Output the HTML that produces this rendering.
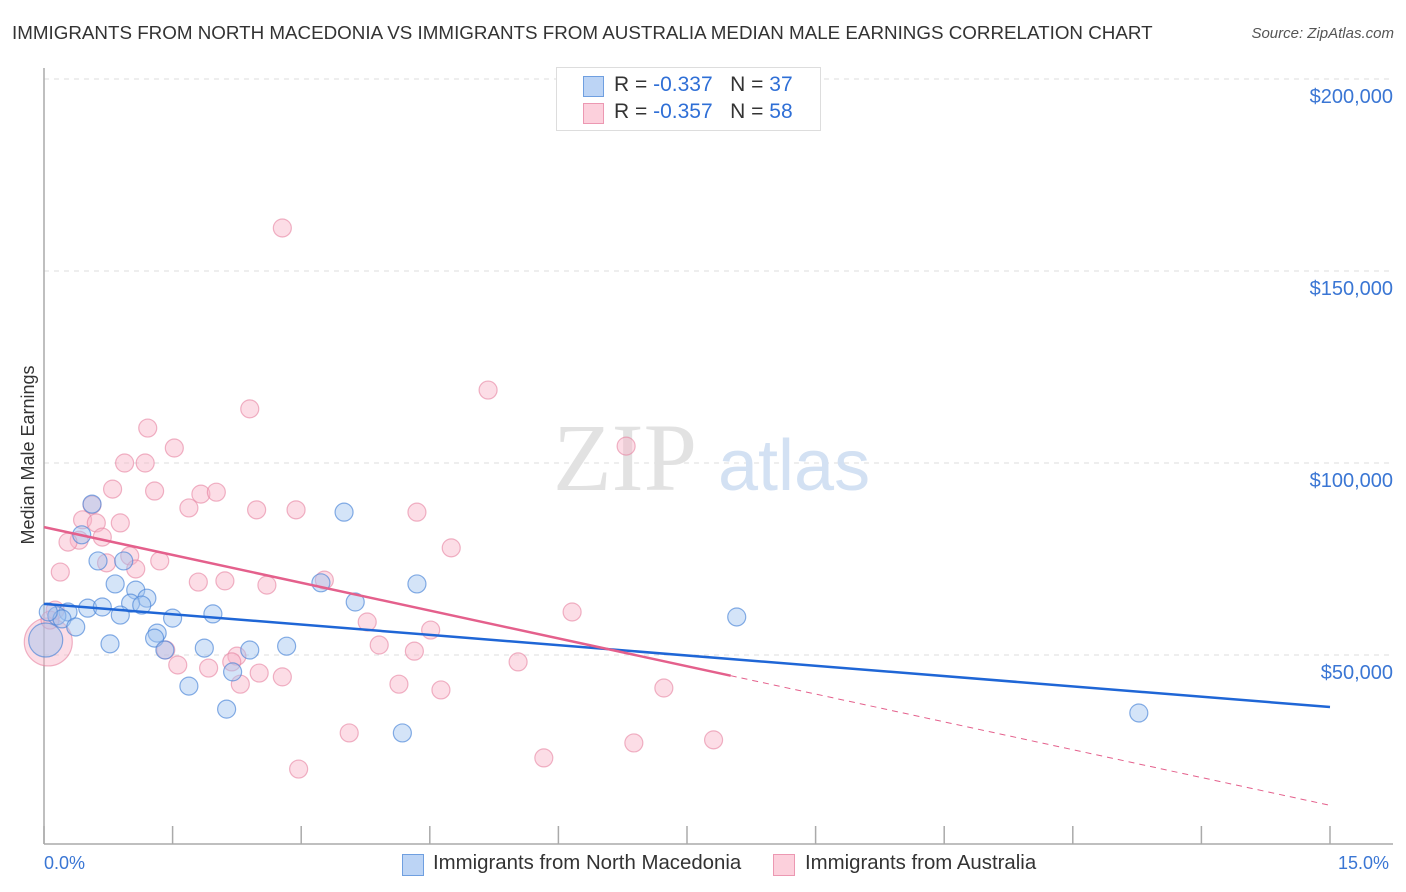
<!DOCTYPE html>
<html><head><meta charset="utf-8">
<style>
body{margin:0;background:#fff;font-family:"Liberation Sans",sans-serif;}
#wrap{position:relative;width:1406px;height:892px;overflow:hidden;}
.t{position:absolute;white-space:nowrap;}
</style></head>
<body>
<div id="wrap">
<div class="t" style="left:12px;top:22px;font-size:18.8px;color:#333;">IMMIGRANTS FROM NORTH MACEDONIA VS IMMIGRANTS FROM AUSTRALIA MEDIAN MALE EARNINGS CORRELATION CHART</div>
<div class="t" style="right:12px;top:25px;font-size:15px;color:#555;font-style:italic;">Source: ZipAtlas.com</div>
<svg id="svg" width="1406" height="892" style="position:absolute;left:0;top:0">
<text x="34" y="455" transform="rotate(-90 34 455)" text-anchor="middle" font-size="18" fill="#333" font-family="Liberation Sans, sans-serif">Median Male Earnings</text>
</svg>
<div style="position:absolute;left:556px;top:67px;width:263px;height:62px;border:1px solid #ddd;background:#fff;">
 <div style="position:absolute;left:26px;top:8px;width:19px;height:19px;background:#bcd4f5;border:1px solid #6f9fe0;"></div>
 <div class="t" style="left:57px;top:5px;font-size:21px;color:#333;">R = <span style="color:#2f6fd6">-0.337</span> &nbsp; N = <span style="color:#2f6fd6">37</span></div>
 <div style="position:absolute;left:26px;top:35px;width:19px;height:19px;background:#fcd0dc;border:1px solid #ec98b2;"></div>
 <div class="t" style="left:57px;top:32px;font-size:21px;color:#333;">R = <span style="color:#2f6fd6">-0.357</span> &nbsp; N = <span style="color:#2f6fd6">58</span></div>
</div>
<div class="t" style="left:44px;top:853px;font-size:18px;color:#3a76d4;">0.0%</div>
<div class="t" style="left:1338px;top:853px;font-size:18px;color:#3a76d4;">15.0%</div>
<div style="position:absolute;left:402px;top:854px;width:20px;height:20px;background:#bcd4f5;border:1px solid #6f9fe0;"></div>
<div class="t" style="left:433px;top:852px;font-size:20.4px;color:#333;">Immigrants from North Macedonia</div>
<div style="position:absolute;left:773px;top:854px;width:20px;height:20px;background:#fcd0dc;border:1px solid #ec98b2;"></div>
<div class="t" style="left:805px;top:852px;font-size:20.4px;color:#333;">Immigrants from Australia</div>
</div>
<script>
const yTicks=[50,100,150,200];
const yTickLabels=["$50,000","$100,000","$150,000","$200,000"];
const blueX=[0.56,0.44,0.63,0.93,0.83,1.07,1.20,1.01,1.14,0.51,0.68,0.28,0.15,0.21,0.37,0.89,1.50,1.97,1.32,1.29,1.41,0.77,1.87,2.40,2.83,2.20,1.69,2.13,3.50,3.23,3.63,4.35,4.18,8.08,12.77,0.02,0.05];
const blueY=[89.3,81.3,74.5,74.5,68.5,66.9,64.8,63.5,63.0,62.2,62.5,61.2,60.2,59.4,57.3,60.4,59.6,60.7,55.7,54.4,51.3,52.9,51.8,51.3,52.3,45.6,41.9,35.9,87.2,68.8,63.8,68.5,29.7,59.9,34.9,53.9,61.2];
const blueBig=[35];
const pinkX=[2.78,5.18,2.40,1.21,6.79,1.52,0.94,1.18,0.80,1.29,1.83,2.01,0.56,1.69,2.48,2.94,4.35,0.45,0.61,0.89,0.41,0.28,0.68,4.75,1.00,1.35,0.73,1.07,0.19,1.80,2.11,2.60,3.27,6.16,0.13,3.77,4.51,3.91,4.32,2.25,2.19,1.56,1.92,2.51,2.78,5.53,4.14,4.63,7.23,2.29,3.56,6.88,7.81,2.97,5.83,0.05,0.07,1.42];
const pinkY=[161.2,119.0,114.1,109.1,104.4,103.9,100.0,100.0,93.2,92.7,91.9,92.4,89.1,88.3,87.8,87.8,87.2,85.2,84.4,84.4,79.9,79.4,80.7,77.9,75.8,74.5,74.0,72.4,71.6,69.0,69.3,68.2,69.5,61.2,61.7,58.6,56.5,52.6,51.0,49.7,48.2,47.4,46.6,45.3,44.3,48.2,42.4,40.9,41.4,42.4,29.7,27.1,27.9,20.3,23.2,53.4,59.1,51.3];
const pinkBig=[55];
const blueTrend=[63.3,-1.79];
const pinkTrend=[83.3,-4.83];
const pinkSolidEnd=8.01;

const X0=44,X1=1330,Y0=847;
const sx=v=>X0+(v/15)*(X1-X0);
const sy=v=>Y0-v*3.84;
const svg=document.getElementById('svg');
const NS='http://www.w3.org/2000/svg';
function mk(tag,at){const e=document.createElementNS(NS,tag);for(const k in at)e.setAttribute(k,at[k]);svg.appendChild(e);return e;}
yTicks.forEach((t,i)=>{
 const g=mk('line',{x1:X0,x2:1393,y1:sy(t),y2:sy(t),stroke:'#ddd','stroke-dasharray':'5,5'});
 
 
 const tx=mk('text',{x:1393,y:sy(t)+24,'text-anchor':'end','font-size':'20','fill':'#3a76d4','font-family':'Liberation Sans, sans-serif'});
 tx.textContent=yTickLabels[i];
 
 
});
const ax=mk('line',{x1:X0,x2:X0,y1:68,y2:844,stroke:'#aaa','stroke-width':1.5});


const bx=mk('line',{x1:X0,x2:1393,y1:844,y2:844,stroke:'#aaa','stroke-width':1.5});


for(let i=0;i<=10;i++){
 const tk=mk('line',{x1:sx(i*1.5),x2:sx(i*1.5),y1:826,y2:844,stroke:'#aaa','stroke-width':1.5});
 
 
}
const w1=mk('text',{x:553,y:490,'font-size':'96','fill':'#e2e2e2','font-family':'Liberation Serif, serif'});
w1.textContent='ZIP';


const w2=mk('text',{x:718,y:490,'font-size':'72','fill':'#d3e1f3','font-family':'Liberation Sans, sans-serif'});
w2.textContent='atlas';


function pts(xs,ys,big,fill,stroke,name){
 xs.forEach((x,i)=>{
  const r=big.includes(i)?(name==='pink-point'?24:17):9;
  const c=mk('circle',{cx:sx(x),cy:sy(ys[i]),r:r,fill:fill,stroke:stroke,'stroke-width':1.2});
  
  
 });
}
pts(pinkX,pinkY,pinkBig,'rgba(248,180,200,0.45)','rgba(230,130,160,0.6)','pink-point');
pts(blueX,blueY,blueBig,'rgba(160,195,240,0.45)','rgba(70,130,215,0.65)','blue-point');
const bl=mk('line',{x1:sx(0),y1:sy(blueTrend[0]),x2:sx(15),y2:sy(blueTrend[0]+blueTrend[1]*15),stroke:'#1f66d6','stroke-width':2.5});


const pl=mk('line',{x1:sx(0),y1:sy(pinkTrend[0]),x2:sx(pinkSolidEnd),y2:sy(pinkTrend[0]+pinkTrend[1]*pinkSolidEnd),stroke:'#e4608c','stroke-width':2.5});


const pd=mk('line',{x1:sx(pinkSolidEnd),y1:sy(pinkTrend[0]+pinkTrend[1]*pinkSolidEnd),x2:sx(15),y2:sy(pinkTrend[0]+pinkTrend[1]*15),stroke:'#e4608c','stroke-width':1,'stroke-dasharray':'6,5'});


</script>
</body></html>
